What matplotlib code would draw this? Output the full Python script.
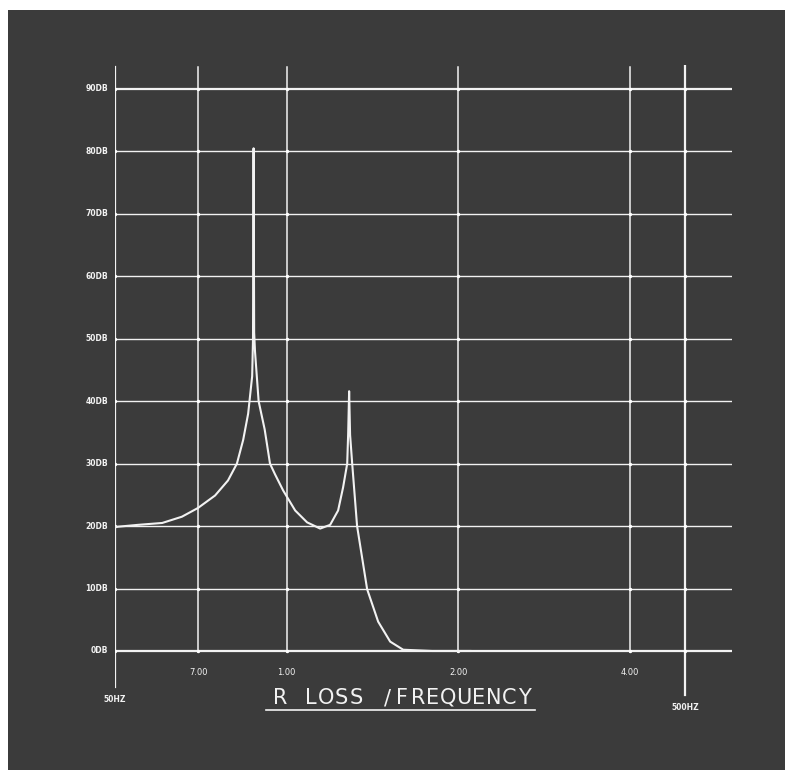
import matplotlib
matplotlib.use("Agg")
import matplotlib.pyplot as plt
from matplotlib.patches import Rectangle
from matplotlib.lines import Line2D

# values (frequency in Hz, loss in dB)
freq = [50, 50.6, 54.9, 60.5, 65.5, 69.9, 74.9, 78.9, 81.8, 83.9, 85.6, 87.0,
        87.3, 87.5, 87.7, 88.0, 89.3, 91.5, 93.5, 95.4, 98.6, 103.5, 108.6,
        114.5, 119.2, 123.1, 125.6, 127.7, 128.2, 128.7, 129.2, 130.3, 132.9,
        138.4, 144.7, 151.9, 160.1, 180, 210]
loss = [19.8, 19.9, 20.2, 20.5, 21.5, 22.9, 24.9, 27.3, 30.0, 33.8, 38.0, 44.0,
        50.0, 80.5, 51.0, 48.0, 40.0, 35.5, 30.0, 28.3, 25.7, 22.5, 20.6,
        19.6, 20.2, 22.5, 26.2, 30.0, 34.8, 41.6, 34.6, 30.0, 20.0,
        9.9, 4.7, 1.5, 0.2, 0.0, 0.0]

db_levels = [0, 10, 20, 30, 40, 50, 60, 70, 80, 90]
db_labels = ["0DB", "10DB", "20DB", "30DB", "40DB", "50DB", "60DB", "70DB", "80DB", "90DB"]
grid_freqs = [70, 100, 200, 400]
freq_labels = ["7.00", "1.00", "2.00", "4.00"]
title = "R LOSS /FREQUENCY"

W, H = 788, 774
bg = "#3b3b3b"
ink = "#f2f2f2"

fig = plt.figure(figsize=(W / 100, H / 100), dpi=100)
fig.patch.set_facecolor("white")
fig.add_artist(Rectangle((8 / W, 1 - 770 / H), 777 / W, 760 / H,
                         transform=fig.transFigure, facecolor=bg, edgecolor="none", zorder=0))

ax = fig.add_axes([115 / W, 1 - 700 / H, 617 / W, 635 / H])
ax.set_facecolor("none")
ax.set_xscale("log")
ax.set_xlim(50, 604)
ax.set_ylim(-7.85, 93.84)
for s in ax.spines.values():
    s.set_visible(False)
ax.set_xticks([])
ax.set_xticks([], minor=True)
ax.set_yticks([])

# horizontal grid
for d in db_levels:
    lw = 1.6 if d in (0, 90) else 1.0
    ax.plot([50, 604], [d, d], color=ink, lw=lw, solid_capstyle="butt")
# vertical grid
for f in grid_freqs:
    ax.plot([f, f], [-0.2, 93.5], color=ink, lw=1.1)
ax.plot([50, 50], [-5.8, 93.5], color=ink, lw=1.6)
ax.plot([500, 500], [-7.0, 93.7], color=ink, lw=1.6)

# bright dots where lines cross
for f in grid_freqs + [50, 500]:
    ax.scatter([f] * len(db_levels), db_levels, s=6, color="white", zorder=4, linewidths=0)

# trace
ax.plot(freq, loss, color=ink, lw=1.5, zorder=5, solid_joinstyle="round")

# labels
for d, lab in zip(db_levels, db_labels):
    ax.text(48.6, d, lab, color=ink, fontsize=5.5, fontweight="bold",
            ha="right", va="center")
for f, lab in zip(grid_freqs, freq_labels):
    ax.text(f, -3.4, lab, color=ink, fontsize=6, ha="center", va="center")
ax.text(50, -7.85, "50HZ", color=ink, fontsize=5.5, fontweight="bold",
        ha="center", va="center", clip_on=False)
ax.text(500, -9.1, "500HZ", color=ink, fontsize=5.5, fontweight="bold",
        ha="center", va="center", clip_on=False)

# title drawn with wide, even letter spacing like the plotter lettering
step = 15.3
x0 = 280
for i, ch in enumerate(title):
    if ch != " ":
        fig.text((x0 + i * step) / W, 1 - 698 / H, ch, color=ink, fontsize=15,
                 ha="center", va="center")
fig.add_artist(Line2D([266 / W, 535 / W], [1 - 710 / H, 1 - 710 / H],
                      transform=fig.transFigure, color=ink, lw=1.2))

fig.savefig("out.png", dpi=100, facecolor=fig.get_facecolor())
